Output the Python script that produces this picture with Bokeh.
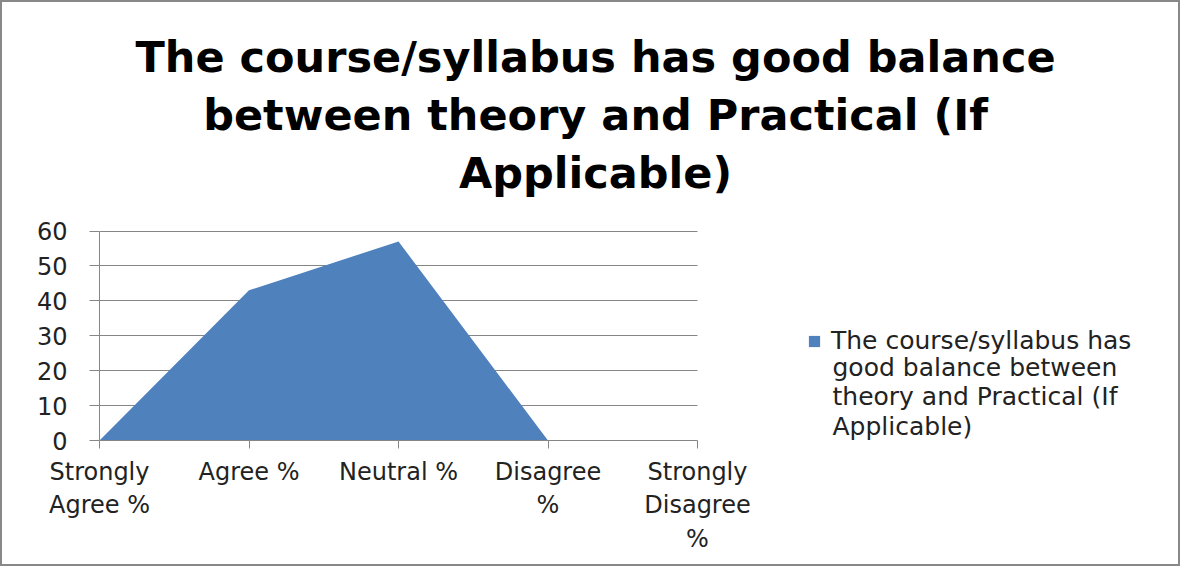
from bokeh.plotting import figure
from bokeh.models import (Range1d, FixedTicker, Label, Legend, LegendItem,
                          ColumnDataSource)
from bokeh.embed import file_html
from bokeh.resources import INLINE

# ---------------- data ----------------
categories = ["Strongly Agree %", "Agree %", "Neutral %", "Disagree %", "Strongly Disagree %"]
tick_labels = ["Strongly\nAgree %", "Agree %", "Neutral %", "Disagree\n%", "Strongly\nDisagree\n%"]
values = [0, 43, 57, 0, 0]
y_ticks = [0, 10, 20, 30, 40, 50, 60]
y_max = 60
title_lines = ["The course/syllabus has good balance",
               "between theory and Practical (If",
               "Applicable)"]
legend_lines = ["The course/syllabus has", "good balance between",
                "theory and Practical (If", "Applicable)"]

# ---------------- style / layout ----------------
FONT = "DejaVu Sans"
AREA = "#4F81BD"
GRAY = "#868686"

ML, MR, MT, MB = 97, 4, 4, 124
FW = 1176 - ML - MR          # frame width (canvas 1176 inside a 2px border)
FH = 562 - MT - MB           # frame height
PLOT_W = 598                 # pixel width of the category axis
PLOT_H = 209.5               # pixel height of the 0..60 value axis
n = len(categories)
px_x = PLOT_W / (n - 1)
px_y = PLOT_H / y_max

p = figure(frame_width=FW, frame_height=FH,
           min_border_left=ML, min_border_right=MR,
           min_border_top=MT, min_border_bottom=MB,
           x_range=Range1d(0, FW / px_x), y_range=Range1d(0, FH / px_y),
           output_backend="svg", toolbar_location=None)
p.styles = {"border": "2px solid #888888"}
p.outline_line_color = None
p.background_fill_color = "white"
p.border_fill_color = "white"

xs = list(range(n))
src = ColumnDataSource(dict(x=xs, y=values, cat=categories))
r = p.varea(x="x", y1=0, y2="y", source=src, fill_color=AREA)

# axes
p.xaxis.ticker = FixedTicker(ticks=xs)
p.xaxis.bounds = (0, n - 1)
p.xaxis.major_label_overrides = {i: t for i, t in enumerate(tick_labels)}
p.yaxis.ticker = FixedTicker(ticks=y_ticks)
p.yaxis.bounds = (0, y_max)
for ax in (p.xaxis[0], p.yaxis[0]):
    ax.axis_line_color = GRAY
    ax.major_tick_line_color = GRAY
    ax.minor_tick_line_color = None
    ax.major_tick_in = 0
    ax.major_label_text_font = FONT
    ax.major_label_text_font_size = "24px"
    ax.major_label_text_color = "#222222"
p.xaxis.major_tick_out = 8
p.xaxis.major_label_standoff = 9
p.yaxis.major_tick_out = 10
p.yaxis.major_label_standoff = 22
p.xgrid.grid_line_color = None
p.ygrid.grid_line_color = GRAY
p.ygrid.ticker = FixedTicker(ticks=y_ticks)
p.ygrid.cross_bounds = (0, n - 1)

# title (three centred lines), positioned in pixels from the frame's top-left
title_cx_px = 496
for i, line in enumerate(title_lines):
    mid_from_top = 50 + 58.3 * i
    p.add_layout(Label(x=title_cx_px / px_x, y=(FH - mid_from_top) / px_y,
                       text=line, text_align="center", text_baseline="middle",
                       text_font=FONT, text_font_style="bold",
                       text_font_size="43px", text_color="black"))

# legend: swatch + first line, then the rest of the wrapped series name
legend = Legend(items=[LegendItem(label=legend_lines[0], renderers=[r])],
                location=(708, 85), orientation="vertical",
                glyph_width=14, glyph_height=14, label_standoff=10,
                padding=0, margin=0, spacing=0,
                border_line_color=None, background_fill_alpha=0,
                label_text_font=FONT, label_text_font_size="25px",
                label_text_color="#222222")
p.add_layout(legend, "center")
p.add_layout(Label(x=733 / px_x, y=43.5 / px_y, text="\n".join(legend_lines[1:]),
                   text_align="left", text_baseline="middle",
                   text_font=FONT, text_font_size="25px",
                   text_line_height=1.03, text_color="#222222"))

open("out.html", "w").write(file_html(p, INLINE))
